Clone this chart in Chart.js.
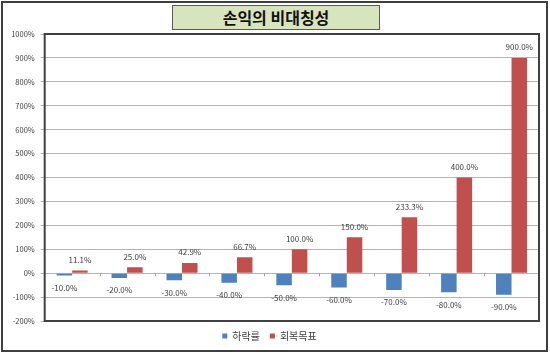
<!DOCTYPE html>
<html>
<head>
<meta charset="utf-8">
<script src="https://cdn.jsdelivr.net/npm/chart.js@4/dist/chart.umd.min.js"></script>
<style>
  html, body { margin:0; padding:0; background:#fff; }
  #wrap { position:relative; width:550px; height:354px; }
  #frame { position:absolute; left:1px; top:1px; width:547px; height:351px; box-sizing:border-box; border:2px solid #3f3f3f; pointer-events:none; }
  #title { position:absolute; left:172px; top:5px; width:208px; height:25px; box-sizing:border-box; border:1px solid #5a5a5a; background:#d7e4bd;
           font-family:"Noto Sans CJK KR", sans-serif; font-weight:bold; font-size:16px; line-height:23px; text-align:center; color:#111; }
  canvas { position:absolute; left:0; top:0; }
</style>
</head>
<body>
<div id="wrap">
  <canvas id="c" width="550" height="354"></canvas>
  <div id="title">손익의 비대칭성</div>
  <div id="frame"></div>
</div>
<script>
const categories = ['1', '2', '3', '4', '5', '6', '7', '8', '9'];
const seriesNames = ['하락률', '회복목표'];
const declineRate = [-10.0, -20.0, -30.0, -40.0, -50.0, -60.0, -70.0, -80.0, -90.0];
const recoveryTarget = [11.1, 25.0, 42.9, 66.7, 100.0, 150.0, 233.3, 400.0, 900.0];
const yMin = -200, yMax = 1000, yStep = 100;

const FONT = '"Noto Sans CJK KR", "Liberation Sans", sans-serif';

const decorPlugin = {
  id: 'decor',
  afterDatasetsDraw(chart) {
    const ctx = chart.ctx;
    const ca = chart.chartArea;
    const xs = chart.scales.x, ys = chart.scales.y;
    const y0 = ys.getPixelForValue(0);
    // category tick marks on the zero line
    ctx.save();
    ctx.strokeStyle = '#a0a0a0';
    ctx.lineWidth = 1;
    for (let i = 1; i < categories.length; i++) {
      const bx = Math.round((xs.getPixelForValue(i - 1) + xs.getPixelForValue(i)) / 2) + 0.5;
      ctx.beginPath(); ctx.moveTo(bx, y0); ctx.lineTo(bx, y0 + 3); ctx.stroke();
    }
    // data labels
    ctx.font = '8px ' + FONT;
    ctx.fillStyle = '#404040';
    ctx.textAlign = 'center';
    ctx.textBaseline = 'middle';
    chart.data.datasets.forEach((ds, di) => {
      const meta = chart.getDatasetMeta(di);
      meta.data.forEach((el, i) => {
        const v = ds.data[i];
        const txt = v.toFixed(1) + '%';
        if (v >= 0) ctx.fillText(txt, el.x, el.y - 10.5);
        else ctx.fillText(txt, el.x, el.y + 12.5);
      });
    });
    // plot area border
    ctx.strokeStyle = '#404040';
    ctx.lineWidth = 2;
    ctx.strokeRect(ca.left, ca.top, ca.right - ca.left, ca.bottom - ca.top);
    ctx.restore();
  }
};

new Chart(document.getElementById('c'), {
  type: 'bar',
  data: {
    labels: categories,
    datasets: [
      { label: seriesNames[0], data: declineRate, backgroundColor: '#4f81bd' },
      { label: seriesNames[1], data: recoveryTarget, backgroundColor: '#c0504d' }
    ]
  },
  options: {
    responsive: false,
    animation: false,
    devicePixelRatio: 1,
    layout: { padding: { top: 34, right: 11, bottom: 3, left: 0 } },
    datasets: { bar: { categoryPercentage: 0.565, barPercentage: 1.0 } },
    scales: {
      x: { display: false },
      y: {
        min: yMin, max: yMax,
        afterFit(scale) { scale.width = 44.7; },
        ticks: {
          stepSize: yStep,
          padding: 6,
          color: '#404040',
          font: { family: FONT, size: 7.5 },
          callback: v => v + '%'
        },
        grid: {
          color: '#b4b4b4',
          lineWidth: 1,
          tickLength: 4,
          drawTicks: true
        },
        border: { display: false }
      }
    },
    plugins: {
      legend: {
        position: 'bottom',
        labels: {
          boxWidth: 5, boxHeight: 5, padding: 10,
          color: '#404040',
          font: { family: FONT, size: 10 }
        }
      },
      tooltip: { enabled: false },
      title: { display: false }
    }
  },
  plugins: [decorPlugin]
});
</script>
</body>
</html>
